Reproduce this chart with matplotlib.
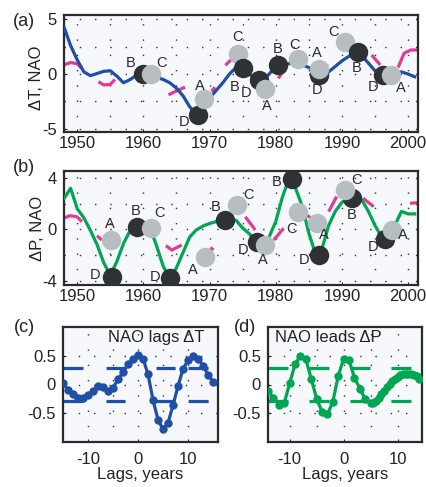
import matplotlib
matplotlib.use('Agg')
import matplotlib.pyplot as plt
from matplotlib.ticker import FuncFormatter
import numpy as np

plt.rcParams['font.family'] = ['Liberation Sans', 'DejaVu Sans']
plt.rcParams['axes.unicode_minus'] = False
plt.rcParams['lines.scale_dashes'] = False

# ---------------- data ----------------
years = list(range(1948, 2002))
dT = [4.3, 2.6, 1.3, 0.2, -0.15, 0.05, 0.25, 0.3, -0.2, -0.8, -0.5, -0.1, 0.0, 0.0,
      -0.3, -0.5, -0.8, -1.3, -2.0, -3.0, -3.7, -2.6, -2.2, -1.5, -0.8, 0.0, 0.6, 0.5,
      0.0, -0.5, -0.6, 0.0, 0.7, 0.9, 0.95, 1.0, 0.85, 0.6, 0.2, -0.1, 0.2, 0.7, 1.2,
      1.6, 2.0, 1.7, 1.0, 0.3, -0.1, -0.1, 0.1, 0.2, 0.0, -0.25]
dP = [2.4, 3.2, 1.6, 0.9, -0.1, -1.2, -2.6, -3.6, -2.5, -1.1, -0.1, 0.2, 0.2, 0.1,
      -1.3, -2.9, -3.8, -3.0, -1.8, -0.6, -0.05, 0.25, 0.45, 0.6, 0.75, 0.75, 0.7, 0.1,
      -0.35, -0.9, -1.2, -0.6, 0.6, 2.5, 3.95, 3.2, 1.8, -0.3, -1.9, -1.5, 0.3, 1.4,
      2.1, 2.4, 2.4, 2.3, 1.4, 0.3, -0.6, -0.3, 0.3, 1.4, 1.2, 1.2]

nan = np.nan
# visible pieces of the dashed NAO curve
nao_a_years = [1948, 1949, 1950, 1950.7, nan,
               1953.2, 1954, 1955, 1955.7, nan,
               1963.8, 1964.8, 1966.3, nan,
               1970.3, 1970.8, nan,
               1972.4, 1973.4, nan,
               1980.4, 1981.2, nan,
               1986.8, 1987.9, nan,
               1994.5, 1995.8, nan,
               1998.5, 1999.4, 2000.4, 2001.5]
nao_a_vals = [0.85, 1.05, 0.95, 0.5, nan,
              -0.7, -1.0, -0.95, -0.5, nan,
              -1.9, -1.6, -1.2, nan,
              -1.6, -1.2, nan,
              0.8, 1.4, nan,
              -0.4, 0.37, nan,
              1.1, 0.7, nan,
              1.74, 0.83, nan,
              0.6, 1.9, 2.2, 2.2]
nao_b_years = [1947.9, 1948.9, 1949.95, 1950.7, nan,
               1953.0, 1953.7, nan,
               1963.4, 1964.3, 1965.8, nan,
               1970.1, 1970.6, nan,
               1975.4, 1976.9, nan,
               1979.7, 1981.2, nan,
               1984.7, 1985.2, nan,
               1988.0, 1989.2, nan,
               1993.2, 1994.8, nan,
               2000.3, 2001.5]
nao_b_vals = [0.86, 1.06, 0.98, 0.6, nan,
              -0.5, -0.84, nan,
              -1.28, -1.62, -1.23, nan,
              -1.44, -1.62, nan,
              0.98, -0.05, nan,
              -0.84, 0.08, nan,
              1.12, 0.9, nan,
              1.38, 2.55, nan,
              2.42, 1.77, nan,
              2.03, 2.08]

# phase circles (drawing order)
a_lab = ['B', 'C', 'D', 'A', 'C', 'B', 'D', 'A', 'B', 'C', 'D', 'A', 'C', 'B', 'D', 'A']
a_yr = [1959.9, 1961.1, 1968.2, 1969.2, 1974.3, 1975.0, 1977.4, 1978.4, 1980.3, 1983.3,
        1986.5, 1986.5, 1990.5, 1992.5, 1996.2, 1997.4]
a_val = [0.0, 0.0, -3.76, -2.3, 1.83, 0.52, -0.55, -1.4, 0.83, 1.35,
         -0.1, 0.43, 2.96, 2.05, -0.1, -0.1]
b_lab = ['D', 'A', 'B', 'C', 'D', 'A', 'B', 'C', 'D', 'A', 'B', 'C', 'A', 'D', 'B', 'C', 'D', 'A']
b_yr = [1955.3, 1955.1, 1959.1, 1961.1, 1964.0, 1969.3, 1972.4, 1974.1, 1977.1, 1978.4,
        1982.4, 1983.4, 1986.2, 1986.5, 1991.5, 1990.5, 1996.5, 1997.5]
b_val = [-3.7, -0.84, 0.2, 0.08, -3.78, -2.14, 0.73, 1.9, -0.97, -1.23,
         3.95, 1.38, 0.47, -2.0, 2.42, 3.07, -0.75, -0.05]

c_lags = list(range(-15, 16))
c_corr = [0.02, -0.09, -0.17, -0.23, -0.24, -0.18, -0.11, -0.03, -0.05, -0.11, -0.06,
          0.09, 0.21, 0.35, 0.45, 0.51, 0.45, 0.18, -0.27, -0.61, -0.78, -0.67, -0.36,
          -0.03, 0.27, 0.42, 0.50, 0.45, 0.33, 0.17, 0.05]
d_lags = list(range(-14, 6)) + [5.5, 6, 6.5, 7, 7.5, 8, 8.5, 9, 9.5, 10, 10.5, 11,
                                 11.5, 12, 12.5, 13, 13.5, 14]
d_corr = [-0.12, -0.23, -0.35, -0.33, 0.02, 0.35, 0.50, 0.44, 0.10, -0.25, -0.47, -0.52,
          -0.30, 0.15, 0.45, 0.42, 0.12, -0.07, -0.26, -0.33,
          -0.32, -0.28, -0.23, -0.17, -0.11, -0.05, 0.01, 0.06, 0.10, 0.13, 0.16, 0.18,
          0.19, 0.19, 0.18, 0.17, 0.14, 0.10]
sig_level = 0.29

# ---------------- style / layout ----------------
BLUE = '#1f4fa6'
GREEN = '#00a651'
PINK = '#e03c96'
DARK = '#2e3234'
LIGHT = '#b6bec2'
BG = '#f6f8fb'
SPINE = '#2b2b2b'
W, H = 427, 487

# label offsets (pixels, x right / y down)
a_off = [(-12, -11), (11, -11), (-14, 7), (-4, -13), (-1, -17), (-8, 19), (-12, 13), (2, 17),
         (0, -16), (-3, -14), (-2, 15), (-2, -16), (-12, -10), (-2, 16), (-10, 12), (10, 13)]
b_off = [(-17, -2), (-1, -16), (-2, -16), (9, -15), (-15, -1), (-12, 13), (-10, -13), (12, -10),
         (-13, 8), (-2, 15), (-15, 3), (-7, 17), (7, 12), (-15, 5), (0, 17), (11, -10),
         (-12, 8), (11, 5)]

fig = plt.figure(figsize=(W / 100, H / 100), dpi=100)
gfmt = FuncFormatter(lambda v, p: '%g' % v)


def box(l, t, r, b):
    return [l / W, 1 - b / H, (r - l) / W, (b - t) / H]


def style(ax):
    ax.set_facecolor(BG)
    for s in ax.spines.values():
        s.set_linewidth(1.6)
        s.set_color(SPINE)
    ax.grid(True, which='both', linestyle=(0, (1, 10)), color='#333333', linewidth=1.0)
    ax.set_axisbelow(True)
    ax.tick_params(which='major', direction='in', length=2, width=0.8, labelsize=12,
                   colors='#222222')
    ax.tick_params(which='minor', length=0)


def ts_panel(ax, line_x, line_y, color, nao_x, nao_y, lab, yr, val, off, ylim, yt, ymin):
    style(ax)
    ax.plot(nao_x, nao_y, color=PINK, lw=2.3, solid_capstyle='butt', zorder=2)
    ax.plot(line_x, line_y, color=color, lw=2.3, zorder=3)
    for i, (L, x, y, (dx, dy)) in enumerate(zip(lab, yr, val, off)):
        c = DARK if L in ('B', 'D') else LIGHT
        ax.plot([x], [y], 'o', ms=14, color=c, mec='none', zorder=5 + i * 0.01)
        ax.annotate(L, (x, y), xytext=(dx * 0.72, -dy * 0.72), textcoords='offset points',
                    ha='center', va='center', fontsize=10.5, color='#2a2a2a', zorder=10)
    ax.set_xlim(1948, 2001.5)
    ax.set_ylim(*ylim)
    ax.set_xticks([1950, 1960, 1970, 1980, 1990, 2000])
    ax.set_xticks([1955, 1965, 1975, 1985, 1995], minor=True)
    ax.set_yticks(yt)
    ax.set_yticks(ymin, minor=True)
    ax.yaxis.set_major_formatter(gfmt)
    ax.tick_params(axis='x', pad=3)
    ax.tick_params(axis='y', pad=5)


axa = fig.add_axes(box(64, 15, 418, 132))
ts_panel(axa, years, dT, BLUE, nao_a_years, nao_a_vals, a_lab, a_yr, a_val, a_off,
         (-5.3, 5.4), [-5, 0, 5], [-2.5, 2.5])
axb = fig.add_axes(box(64, 171, 418, 285))
ts_panel(axb, years, dP, GREEN, nao_b_years, nao_b_vals, b_lab, b_yr, b_val, b_off,
         (-4.35, 4.55), [-4, 0, 4], [-2, 2])


def lag_panel(ax, lags, corr, color, xlim, dashes, title, tx, ha):
    style(ax)
    for s in (sig_level, -sig_level):
        ax.plot([xlim[0], xlim[1]], [s, s], color=color, lw=2.3, dashes=dashes,
                solid_capstyle='butt', dash_capstyle='butt', zorder=2)
    ax.plot(lags, corr, '-o', color=color, lw=2.3, ms=6, mec='none', zorder=3)
    ax.set_xlim(*xlim)
    ax.set_ylim(-1, 1)
    ax.set_xticks([-10, 0, 10])
    ax.set_xticks([-5, 5], minor=True)
    ax.set_yticks([-0.5, 0, 0.5])
    ax.xaxis.set_major_formatter(gfmt)
    ax.yaxis.set_major_formatter(gfmt)
    ax.tick_params(axis='x', pad=7)
    ax.tick_params(axis='y', pad=5)
    ax.set_xlabel('Lags, years', fontsize=12, labelpad=0, color='#222222')
    ax.text(tx, 0.975, title, transform=ax.transAxes, ha=ha, va='top', fontsize=12,
            color='#222222', zorder=12)


axc = fig.add_axes(box(63, 327, 218, 442))
lag_panel(axc, c_lags, c_corr, BLUE, (-15, 16),
          [14.4, 16.6, 13.7, 22.3, 13.7, 9.4, 14.4, 40], 'NAO lags ΔT', 0.91, 'right')
axd = fig.add_axes(box(268, 327, 422, 442))
lag_panel(axd, d_lags, d_corr, GREEN, (-14, 14.5),
          [14.4, 15.1], 'NAO leads ΔP', 0.045, 'left')

# panel letters and y labels
for txt, x, y in [('(a)', 24, 22), ('(b)', 24, 168), ('(c)', 24, 327), ('(d)', 245, 327)]:
    fig.text(x / W, 1 - y / H, txt, ha='center', va='center', fontsize=13, color='#222222')
fig.text(37 / W, 1 - 78 / H, 'ΔT, NAO', rotation=90, ha='center', va='center',
         fontsize=12, color='#222222')
fig.text(38 / W, 1 - 228 / H, 'ΔP, NAO', rotation=90, ha='center', va='center',
         fontsize=12, color='#222222')

fig.savefig('out.png', dpi=100, facecolor='white')
